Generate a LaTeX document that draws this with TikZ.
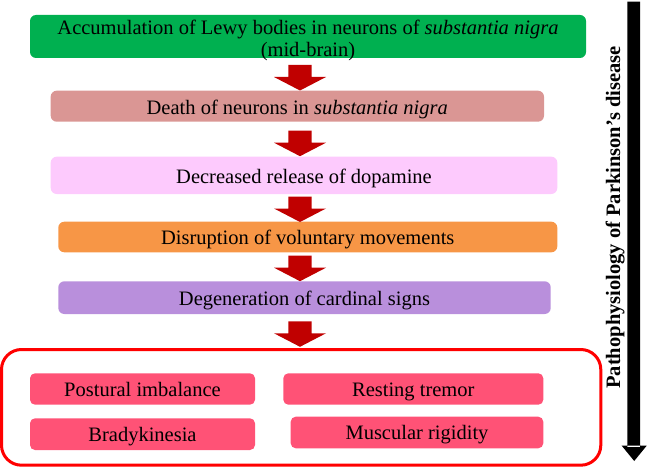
\documentclass[tikz,border=0pt]{standalone}
\usepackage{fontspec}
\setmainfont{Liberation Serif}
\definecolor{cgreen}{HTML}{00B050}
\definecolor{cbrown}{HTML}{DA9694}
\definecolor{cpink}{HTML}{FDCAFD}
\definecolor{corange}{HTML}{F79646}
\definecolor{cpurple}{HTML}{B98FDC}
\definecolor{csign}{HTML}{FF5276}
\definecolor{arrowred}{HTML}{C00000}
\begin{document}
\begin{tikzpicture}[x=1pt,y=-1pt,
  stepbox/.style={draw=none,align=center,inner sep=0pt,anchor=base,font=\fontsize{20.5}{22}\selectfont},
  downarrow/.pic={\fill[arrowred] (-11.7,0) -- (11.7,0) -- (11.7,12) -- (26,12) -- (0,25.5) -- (-26,12) -- (-11.7,12) -- cycle;}]
\useasboundingbox (0,0) rectangle (648,468);
% boxes
\fill[cgreen,rounded corners=6pt] (30,15) rectangle (586,58);
\node[stepbox,anchor=center] (b1) at (308,40.3) {Accumulation of Lewy bodies in neurons of \textit{substantia nigra}\\(mid-brain)};
\fill[cbrown,rounded corners=6pt] (50.7,90.7) rectangle (544,121.7);
\node[stepbox] (b2) at (297.3,114.3) {Death of neurons in \textit{substantia nigra}};
\fill[cpink,rounded corners=6pt] (50.7,156.7) rectangle (557.3,194);
\node[stepbox] (b3) at (304,183.3) {Decreased release of dopamine};
\fill[corange,rounded corners=6pt] (58.3,221.7) rectangle (557.3,252.3);
\node[stepbox] (b4) at (307.8,244) {Disruption of voluntary movements};
\fill[cpurple,rounded corners=6pt] (58.3,281.3) rectangle (550.7,314);
\node[stepbox] (b5) at (304.5,305.7) {Degeneration of cardinal signs};
% arrows
\pic at (300,65) {downarrow};
\pic at (300,130.7) {downarrow};
\pic at (300,196.5) {downarrow};
\pic at (300,255.7) {downarrow};
\pic at (300,321.3) {downarrow};
% outer red box
\draw[red,line width=3pt,rounded corners=20pt] (1.5,349.5) rectangle (600.8,465.2);
\fill[csign,rounded corners=5pt] (30,373.3) rectangle (255,404.7);
\node[stepbox] (s1) at (142.5,396.7) {Postural imbalance};
\fill[csign,rounded corners=5pt] (283.3,373.3) rectangle (543.3,404.7);
\node[stepbox] (s2) at (413.3,396.7) {Resting tremor};
\fill[csign,rounded corners=5pt] (30,418.3) rectangle (255,450);
\node[stepbox] (s3) at (142.5,441.3) {Bradykinesia};
\fill[csign,rounded corners=5pt] (290.7,416.7) rectangle (543.3,448.3);
\node[stepbox] (s4) at (417,439) {Muscular rigidity};
% right arrow
\fill[black] (627.3,1.7) rectangle (640,447) (621.7,445.7) -- (646.7,445.7) -- (634.2,461) -- cycle;
\node[rotate=90,anchor=base,inner sep=0pt,font=\bfseries\fontsize{20.5}{23}\selectfont] (lab) at (620,217.3) {Pathophysiology of Parkinson's disease};
\end{tikzpicture}
\end{document}
